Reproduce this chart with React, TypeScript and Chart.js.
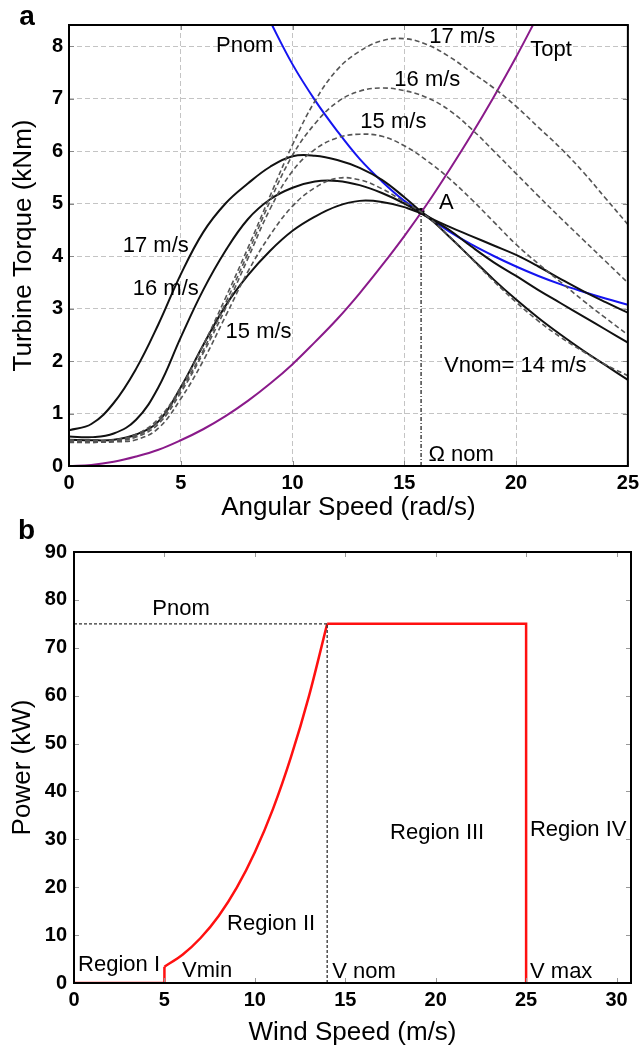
import { useEffect, useRef } from "react";
import { Chart, registerables } from "chart.js";
Chart.register(...registerables);

const FONT = '"Liberation Sans", Arial, sans-serif';

// ---------- Panel a : Turbine torque vs angular speed ----------
const OMEGA = [0, 1, 2, 3, 4, 5, 6, 7, 8, 9, 10, 11, 12, 13, 14, 15, 16, 17, 18, 19, 20, 21, 22, 23, 24, 25];
// solid curves (pitch-controlled)
const S17 = [0.68, 0.8, 1.2, 1.85, 2.7, 3.65, 4.45, 5.0, 5.38, 5.7, 5.9, 5.91, 5.83, 5.68, 5.45, 5.12, 4.77, 4.56, 4.38, 4.2, 4.02, 3.8, 3.56, 3.33, 3.12, 2.92];
const S16 = [0.56, 0.55, 0.62, 0.88, 1.5, 2.45, 3.35, 4.1, 4.7, 5.08, 5.3, 5.42, 5.43, 5.35, 5.2, 5.0, 4.76, 4.5, 4.18, 3.88, 3.62, 3.35, 3.1, 2.85, 2.6, 2.35];
const S15 = [0.5, 0.49, 0.5, 0.6, 0.85, 1.5, 2.3, 3.05, 3.63, 4.1, 4.48, 4.75, 4.95, 5.05, 5.03, 4.93, 4.75, 4.37, 3.96, 3.55, 3.17, 2.82, 2.5, 2.2, 1.92, 1.64];
// dashed curves (optimal)
const D14 = [0.45, 0.45, 0.46, 0.5, 0.72, 1.28, 2.0, 2.85, 3.7, 4.4, 4.95, 5.3, 5.48, 5.45, 5.28, 5.03, 4.76, 4.38, 3.95, 3.52, 3.12, 2.76, 2.45, 2.18, 1.93, 1.72];
const D15 = [0.46, 0.45, 0.47, 0.55, 0.8, 1.4, 2.15, 3.0, 3.95, 4.9, 5.62, 6.03, 6.25, 6.32, 6.28, 6.1, 5.82, 5.48, 5.08, 4.65, 4.22, 3.85, 3.5, 3.15, 2.82, 2.5];
const D16 = [0.48, 0.47, 0.48, 0.57, 0.85, 1.45, 2.2, 3.1, 4.05, 5.05, 5.92, 6.52, 6.93, 7.14, 7.2, 7.15, 7.02, 6.78, 6.42, 6.0, 5.57, 5.14, 4.72, 4.31, 3.9, 3.49];
const D17 = [0.5, 0.48, 0.5, 0.6, 0.9, 1.5, 2.3, 3.2, 4.15, 5.15, 6.12, 6.95, 7.55, 7.9, 8.1, 8.14, 8.03, 7.8, 7.5, 7.2, 6.85, 6.45, 6.05, 5.6, 5.1, 4.6];
// nominal power hyperbola
const PNOM_W = [8.9, 10, 11, 12, 13, 14, 15, 16, 17, 18, 19, 20, 21, 22, 23, 24, 25];
const PNOM_T = [8.55, 7.65, 6.97, 6.38, 5.85, 5.42, 5.05, 4.76, 4.47, 4.22, 4.0, 3.8, 3.62, 3.46, 3.32, 3.19, 3.07];
// optimal torque parabola
const TOPT_W = [0, 1, 2, 3, 4, 5, 6, 7, 8, 9, 10, 11, 12, 13, 14, 15, 16, 17, 18, 19, 20, 21];
const TOPT_T = [0, 0.02, 0.08, 0.18, 0.31, 0.49, 0.7, 0.95, 1.24, 1.57, 1.94, 2.36, 2.8, 3.29, 3.82, 4.38, 4.98, 5.63, 6.31, 7.03, 7.79, 8.6];
// nominal point A
const OMEGA_NOM = 15.75;
const T_NOM = 4.85;
const XA_TICKS = [0, 5, 10, 15, 20, 25];
const YA_TICKS = [0, 1, 2, 3, 4, 5, 6, 7, 8];
const XA_MAX = 25;
const YA_MAX = 8.4;

const LABELS_A = [
  { text: "Pnom", x: 7.86, y: 8.0 },
  { text: "17 m/s", x: 17.59, y: 8.17 },
  { text: "Topt", x: 21.56, y: 7.92 },
  { text: "16 m/s", x: 16.03, y: 7.35 },
  { text: "15 m/s", x: 14.51, y: 6.55 },
  { text: "A", x: 16.88, y: 5.02 },
  { text: "17 m/s", x: 3.88, y: 4.2 },
  { text: "16 m/s", x: 4.33, y: 3.38 },
  { text: "15 m/s", x: 8.48, y: 2.56 },
  { text: "Vnom= 14 m/s", x: 19.96, y: 1.91 },
  { text: "\u03A9 nom", x: 17.54, y: 0.21 },
];

// ---------- Panel b : Power vs wind speed ----------
const WIND_I = [0, 5, 5];
const POWER_I = [0, 0, 3.4];
const WIND_II = [5, 6, 7, 8, 9, 10, 11, 12, 13, 14];
const POWER_II = [3.4, 5.9, 9.4, 14.0, 19.9, 27.3, 36.3, 47.2, 60.0, 75.0];
const WIND_III = [14, 25, 25];
const POWER_III = [75, 75, 0];
const V_NOM = 14;
const P_NOM = 75;
const XB_TICKS = [0, 5, 10, 15, 20, 25, 30];
const YB_TICKS = [0, 10, 20, 30, 40, 50, 60, 70, 80, 90];
const XB_MAX = 30.8;
const YB_MAX = 90;

const LABELS_B = [
  { text: "Pnom", x: 5.92, y: 78.1 },
  { text: "Region I", x: 2.49, y: 3.76 },
  { text: "Vmin", x: 7.36, y: 2.5 },
  { text: "Region II", x: 10.9, y: 12.3 },
  { text: "V nom", x: 16.04, y: 2.3 },
  { text: "Region III", x: 20.08, y: 31.3 },
  { text: "Region IV", x: 27.88, y: 31.9 },
  { text: "V max", x: 26.94, y: 2.3 },
];

const pts = (xs: number[], ys: number[]) => xs.map((x, i) => ({ x, y: ys[i] }));

function decor(opts: { labels: { text: string; x: number; y: number }[]; xt: number[]; yt: number[]; panel: string; px: number; py: number; tickColor: string }) {
  return {
    id: "decor",
    afterDraw(chart: any) {
      const { ctx, chartArea: a } = chart;
      const x = chart.scales.x;
      const y = chart.scales.y;
      ctx.save();
      ctx.setLineDash([]);
      ctx.strokeStyle = opts.tickColor;
      ctx.lineWidth = 1;
      const line = (x1: number, y1: number, x2: number, y2: number) => {
        ctx.beginPath();
        ctx.moveTo(x1, y1);
        ctx.lineTo(x2, y2);
        ctx.stroke();
      };
      for (const v of opts.xt) {
        const p = Math.round(x.getPixelForValue(v)) + 0.5;
        line(p, a.bottom, p, a.bottom - 5);
        line(p, a.top, p, a.top + 5);
      }
      for (const v of opts.yt) {
        const p = Math.round(y.getPixelForValue(v)) + 0.5;
        line(a.left, p, a.left + 5, p);
        line(a.right, p, a.right - 5, p);
      }
      ctx.strokeStyle = "#000";
      ctx.lineWidth = 2;
      ctx.strokeRect(a.left, a.top, a.right - a.left, a.bottom - a.top);
      ctx.fillStyle = "#000";
      ctx.textAlign = "center";
      ctx.textBaseline = "middle";
      ctx.font = `22px ${FONT}`;
      for (const l of opts.labels) {
        ctx.fillText(l.text, x.getPixelForValue(l.x), y.getPixelForValue(l.y));
      }
      if (opts.panel) {
        ctx.font = `bold 28px ${FONT}`;
        ctx.fillText(opts.panel, opts.px, opts.py);
      }
      ctx.restore();
    },
  };
}

function axisX(min: number, max: number, ticks: number[], title: string, height: number, titlePad: number, grid: boolean) {
  return {
    type: "linear" as const,
    min,
    max,
    afterBuildTicks: (s: any) => {
      s.ticks = ticks.map((v) => ({ value: v }));
    },
    afterFit: (s: any) => {
      s.height = height;
    },
    grid: { display: grid, color: "#c4c4c4", lineWidth: 1, drawTicks: false },
    border: { display: false, dash: [5, 3] },
    ticks: { color: "#000", font: { family: FONT, size: 20, weight: "bold" as const }, padding: 5, maxRotation: 0, autoSkip: false },
    title: { display: true, text: title, color: "#000", font: { family: FONT, size: 26 }, padding: { top: titlePad, bottom: titlePad } },
  };
}

function axisY(min: number, max: number, ticks: number[], title: string, width: number, titlePad: number, tickPad: number, grid: boolean) {
  return {
    type: "linear" as const,
    min,
    max,
    afterBuildTicks: (s: any) => {
      s.ticks = ticks.map((v) => ({ value: v }));
    },
    afterFit: (s: any) => {
      s.width = width;
    },
    grid: { display: grid, color: "#c4c4c4", lineWidth: 1, drawTicks: false },
    border: { display: false, dash: [5, 3] },
    ticks: { color: "#000", font: { family: FONT, size: 20, weight: "bold" as const }, padding: tickPad, autoSkip: false },
    title: { display: true, text: title, color: "#000", font: { family: FONT, size: 26 }, padding: { top: titlePad, bottom: titlePad } },
  };
}

const solid = (data: any[]) => ({ data, borderColor: "#111", borderWidth: 2, pointRadius: 0, tension: 0.4, fill: false });
const dashed = (data: any[]) => ({ data, borderColor: "#555", borderWidth: 1.6, borderDash: [5, 3], pointRadius: 0, tension: 0.4, fill: false });

export default function App() {
  const refA = useRef<HTMLCanvasElement>(null);
  const refB = useRef<HTMLCanvasElement>(null);

  useEffect(() => {
    const chartA = new Chart(refA.current!, {
      type: "line",
      data: {
        datasets: [
          dashed(pts(OMEGA, D17)),
          dashed(pts(OMEGA, D16)),
          dashed(pts(OMEGA, D15)),
          dashed(pts(OMEGA, D14)),
          solid(pts(OMEGA, S17)),
          solid(pts(OMEGA, S16)),
          solid(pts(OMEGA, S15)),
          { data: pts(PNOM_W, PNOM_T), borderColor: "#1414f0", borderWidth: 2, pointRadius: 0, tension: 0.4, fill: false },
          { data: pts(TOPT_W, TOPT_T), borderColor: "#8a1a8a", borderWidth: 2, pointRadius: 0, tension: 0.4, fill: false },
          { data: pts([OMEGA_NOM, OMEGA_NOM], [0, T_NOM]), borderColor: "#444", borderWidth: 1.5, borderDash: [4, 2, 1, 2], pointRadius: 0, fill: false },
          { data: pts([OMEGA_NOM], [T_NOM]), borderColor: "#000", backgroundColor: "#000", pointRadius: 3, showLine: false },
        ] as any,
      },
      options: {
        responsive: false,
        animation: false,
        events: [],
        layout: { padding: { left: 0, right: 15, top: 25, bottom: 0 } },
        plugins: { legend: { display: false }, tooltip: { enabled: false } },
        scales: {
          x: axisX(0, XA_MAX, XA_TICKS, "Angular Speed (rad/s)", 64, 7, true),
          y: axisY(0, YA_MAX, YA_TICKS, "Turbine Torque (kNm)", 69, 8, 6, true),
        } as any,
      },
      plugins: [decor({ labels: LABELS_A, xt: XA_TICKS, yt: YA_TICKS, panel: "a", px: 27, py: 17, tickColor: "#888" })],
    });

    const chartB = new Chart(refB.current!, {
      type: "line",
      data: {
        datasets: [
          { data: pts([0, V_NOM], [P_NOM, P_NOM]), borderColor: "#333", borderWidth: 1.3, borderDash: [3, 2], pointRadius: 0, fill: false },
          { data: pts([V_NOM, V_NOM], [0, P_NOM]), borderColor: "#333", borderWidth: 1.3, borderDash: [3, 2], pointRadius: 0, fill: false },
          { data: pts(WIND_I, POWER_I), borderColor: "#ff1010", borderWidth: 2.5, pointRadius: 0, tension: 0, fill: false },
          { data: pts(WIND_II, POWER_II), borderColor: "#ff1010", borderWidth: 2.5, pointRadius: 0, tension: 0.3, fill: false },
          { data: pts(WIND_III, POWER_III), borderColor: "#ff1010", borderWidth: 2.5, pointRadius: 0, tension: 0, fill: false },
        ] as any,
      },
      options: {
        responsive: false,
        animation: false,
        events: [],
        layout: { padding: { left: 0, right: 13, top: 22, bottom: 0 } },
        plugins: { legend: { display: false }, tooltip: { enabled: false } },
        scales: {
          x: axisX(0, XB_MAX, XB_TICKS, "Wind Speed (m/s)", 65, 0, false),
          y: axisY(0, YB_MAX, YB_TICKS, "Power (kW)", 74, 7, 7, false),
        } as any,
      },
      plugins: [decor({ labels: LABELS_B, xt: XB_TICKS, yt: YB_TICKS, panel: "", px: 0, py: 0, tickColor: "#999" })],
    });

    return () => {
      chartA.destroy();
      chartB.destroy();
    };
  }, []);

  return (
    <div style={{ position: "absolute", left: 0, top: 0, width: 644, height: 1048, background: "#fff", overflow: "hidden" }}>
      <canvas ref={refA} width={644} height={530} style={{ position: "absolute", left: 0, top: 0, display: "block" }} />
      <canvas ref={refB} width={644} height={518} style={{ position: "absolute", left: 0, top: 530, display: "block" }} />
      <div style={{ position: "absolute", left: 18, top: 516, font: `bold 28px ${FONT}`, color: "#000", lineHeight: "28px" }}>b</div>
    </div>
  );
}
